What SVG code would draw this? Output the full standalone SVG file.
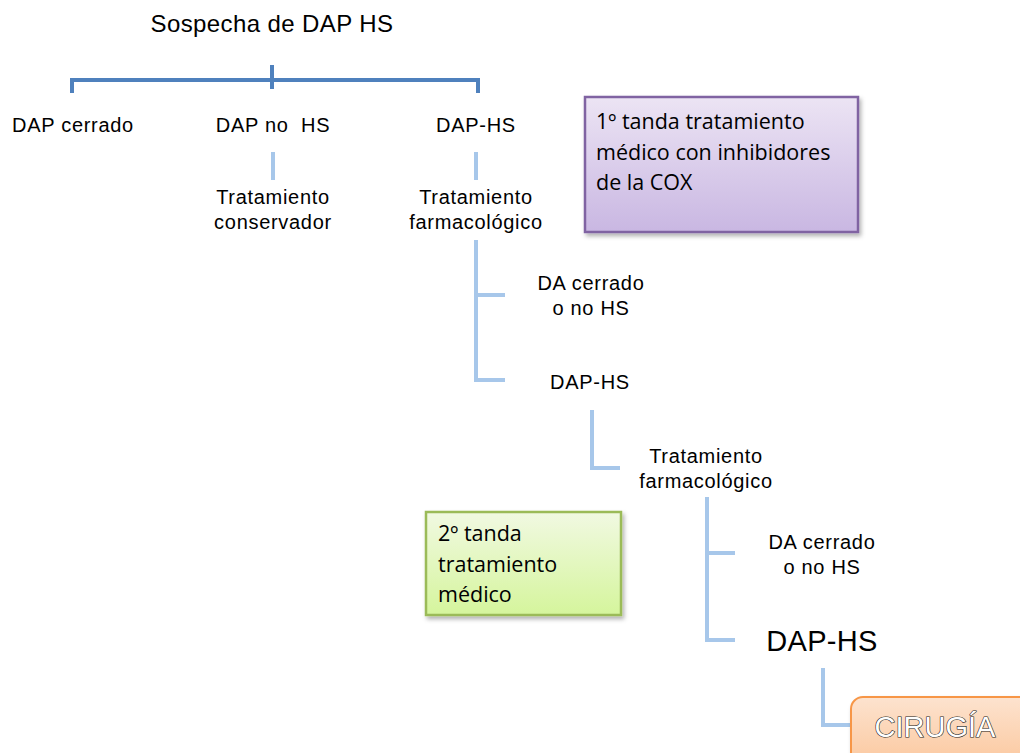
<svg xmlns="http://www.w3.org/2000/svg" width="1020" height="753" viewBox="0 0 1020 753">
<defs>
<linearGradient id="gPurple" x1="0" y1="0" x2="0" y2="1"><stop offset="0" stop-color="#ece4f4"/><stop offset="1" stop-color="#c9b7e2"/></linearGradient>
<linearGradient id="gGreen" x1="0" y1="0" x2="0" y2="1"><stop offset="0" stop-color="#f1f9e2"/><stop offset="1" stop-color="#d5f59c"/></linearGradient>
<linearGradient id="gOrange" x1="0" y1="0" x2="0" y2="1"><stop offset="0" stop-color="#fde3cf"/><stop offset="1" stop-color="#fbc79d"/></linearGradient>
<filter id="sh" x="-10%" y="-10%" width="130%" height="130%"><feDropShadow dx="2" dy="3" stdDeviation="2" flood-color="#000" flood-opacity="0.3"/></filter>
</defs>
<style>
.t{font-family:"Liberation Sans",Arial,sans-serif;font-size:20px;letter-spacing:0.7px;fill:#000;text-anchor:middle}
.c{font-family:"Open Sans","Noto Sans",sans-serif;font-size:21.5px;fill:#000}
.dk{fill:none;stroke:#4f81bd;stroke-width:4}
.lt{fill:none;stroke:#a7c7ea;stroke-width:4}
</style>
<rect width="1020" height="753" fill="#fff"/>
<g id="connectors">
<path class="dk" d="M72 93V80H478V93M272 65V89"/>
<path class="lt" d="M273 152V180M476 152V180"/>
<path class="lt" d="M476 240V380H505M476 295H505"/>
<path class="lt" d="M592 410V468H620"/>
<path class="lt" d="M707 497V640H735M707 553H735"/>
<path class="lt" d="M823 668V725H852"/>
</g>
<g id="root"><text class="t" x="272" y="32" style="font-size:24px;letter-spacing:0.4px">Sospecha de DAP HS</text></g>
<g id="dap-cerrado"><text class="t" x="73" y="132">DAP cerrado</text></g>
<g id="dap-no-hs"><text class="t" x="273" y="132" xml:space="preserve">DAP no  HS</text></g>
<g id="dap-hs-1"><text class="t" x="476" y="132">DAP-HS</text></g>
<g id="trat-conservador"><text class="t" x="273" y="204">Tratamiento</text><text class="t" x="273" y="229">conservador</text></g>
<g id="trat-farm-1"><text class="t" x="476" y="204">Tratamiento</text><text class="t" x="476" y="229">farmacológico</text></g>
<g id="da-cerrado-1"><text class="t" x="591" y="290">DA cerrado</text><text class="t" x="591" y="315">o no HS</text></g>
<g id="dap-hs-2"><text class="t" x="590" y="389">DAP-HS</text></g>
<g id="trat-farm-2"><text class="t" x="706" y="463">Tratamiento</text><text class="t" x="706" y="488">farmacológico</text></g>
<g id="da-cerrado-2"><text class="t" x="822" y="549">DA cerrado</text><text class="t" x="822" y="574">o no HS</text></g>
<g id="dap-hs-3"><text class="t" x="822" y="651" style="font-size:29px;letter-spacing:0.3px">DAP-HS</text></g>
<g id="box-1"><rect x="585" y="97" width="273" height="135" fill="url(#gPurple)" stroke="#8064a2" stroke-width="2.5" filter="url(#sh)"/>
<text class="c" x="596" y="129">1º tanda tratamiento</text><text class="c" x="596" y="160">médico con inhibidores</text><text class="c" x="596" y="190">de la COX</text></g>
<g id="box-2"><rect x="426" y="512" width="195" height="103" fill="url(#gGreen)" stroke="#9bbb59" stroke-width="2.5" filter="url(#sh)"/>
<text class="c" x="438" y="541">2º tanda</text><text class="c" x="438" y="572">tratamiento</text><text class="c" x="438" y="602">médico</text></g>
<g id="cirugia"><rect x="851" y="697" width="185" height="70" rx="12" fill="url(#gOrange)" stroke="#f79646" stroke-width="2" filter="url(#sh)"/>
<text x="935" y="737" text-anchor="middle" style="font-family:'Liberation Sans',Arial,sans-serif;font-size:29px;fill:#fff;stroke:#222;stroke-width:1.2;paint-order:stroke">CIRUGÍA</text></g>
</svg>
